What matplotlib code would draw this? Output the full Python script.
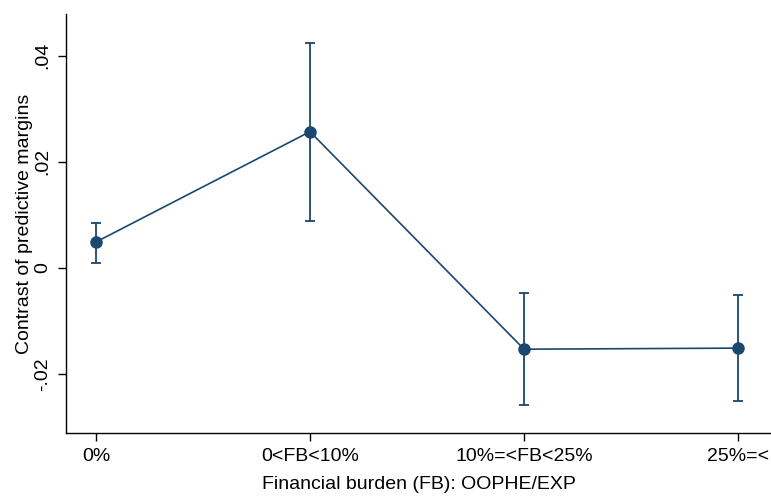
import matplotlib
matplotlib.use("Agg")
import matplotlib.pyplot as plt
import numpy as np

# Contrast of predictive margins by financial burden category
categories = ["0%", "0<FB<10%", "10%=<FB<25%", "25%=<"]
margins = [0.0049, 0.0257, -0.0153, -0.0151]
ci_low = [0.0009, 0.0089, -0.0258, -0.0251]
ci_high = [0.0085, 0.0425, -0.0047, -0.0051]
yticks = [-0.02, 0, 0.02, 0.04]
ytick_labels = ["-.02", "0", ".02", ".04"]

plt.rcParams["font.family"] = ["Liberation Sans", "DejaVu Sans"]
navy = "#1a476f"
fs = 14

fig = plt.figure(figsize=(7.71, 4.96), dpi=100)
ax = fig.add_axes([0.0856, 0.127, 0.9144, 0.845])

x = np.arange(len(categories))
m = np.array(margins)
err = [m - np.array(ci_low), np.array(ci_high) - m]
ax.errorbar(x, m, yerr=err, color=navy, ecolor=navy, elinewidth=1.3,
            capsize=3.7, capthick=1.3, linewidth=1.2, marker="o",
            markersize=8, zorder=3)

ax.set_xlim(-0.14, 3.154)
ax.set_ylim(-0.0311, 0.0479)
ax.set_xticks(x)
ax.set_xticklabels(categories, fontsize=fs)
ax.set_yticks(yticks)
ax.set_yticklabels(ytick_labels, fontsize=fs, rotation=90, va="center")
ax.set_xlabel("Financial burden (FB): OOPHE/EXP", fontsize=fs, labelpad=8)
ax.set_ylabel("Contrast of predictive margins", fontsize=fs, labelpad=1)

for side in ["top", "right"]:
    ax.spines[side].set_visible(False)
for side in ["left", "bottom"]:
    ax.spines[side].set_linewidth(1.0)
ax.tick_params(direction="out", length=5.8, width=1.0)
ax.tick_params(axis="x", pad=5)
ax.tick_params(axis="y", pad=5)

fig.savefig("out.png", dpi=100)
